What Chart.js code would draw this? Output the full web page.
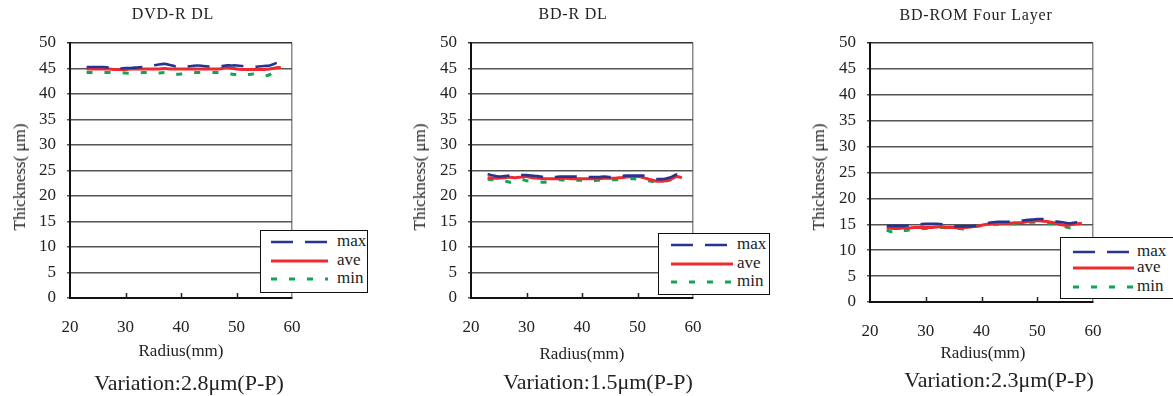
<!DOCTYPE html>
<html>
<head>
<meta charset="utf-8">
<script src="https://cdn.jsdelivr.net/npm/chart.js@4.4.0/dist/chart.umd.min.js"></script>
<style>
    body { margin: 0; background: #fff; font-family: 'Liberation Serif', 'Times New Roman', serif; color: #222; }
    #wrap { position: relative; width: 1173px; height: 396px; overflow: hidden; }
    canvas { position: absolute; left: 0; top: 0; }
    .txt { position: absolute; white-space: nowrap; transform: translate(-50%, -50%); }
    .title { font-size: 16px; letter-spacing: 0.8px; }
    .xtitle { font-size: 17px; }
    .ytitle { font-size: 17px; transform: translate(-50%, -50%) rotate(-90deg); }
    .caption { font-size: 22px; }
    .legend { position: absolute; background: #fff; border: 1px solid #111; box-sizing: border-box; font-size: 17px; }
    .legend .row { position: absolute; left: 0; height: 18px; line-height: 18px; }
    .legend svg { position: absolute; top: 0; }
    .legend span { position: absolute; top: -1px; }
</style>
</head>
<body>
<div id="wrap"></div>
<script>
// radius (mm) of the measuring points, shared by all three discs
const radius = [23, 24, 25, 26, 27, 28, 29, 30, 31, 32, 33, 34, 35, 36, 37, 38, 39, 40,
                41, 42, 43, 44, 45, 46, 47, 48, 49, 50, 51, 52, 53, 54, 55, 56, 57, 58];

// DVD-R DL
const dvdMax = [45.3, 45.3, 45.3, 45.3, 45.2, 45.0, 45.0, 45.1, 45.1, 45.2, 45.3, 45.4, 45.6, 45.8, 45.9, 45.7, 45.4, 45.3,
                45.4, 45.5, 45.6, 45.5, 45.4, 45.3, 45.4, 45.6, 45.6, 45.6, 45.5, 45.3, 45.3, 45.4, 45.5, 45.6, 46.0, 46.4];
const dvdAve = [44.9, 44.9, 44.9, 44.9, 44.9, 44.8, 44.8, 44.8, 44.9, 44.9, 44.9, 44.9, 44.9, 44.9, 45.0, 44.9, 44.9, 44.9,
                44.9, 44.9, 44.9, 44.9, 44.9, 44.9, 44.9, 45.2, 45.1, 44.9, 44.8, 44.8, 44.8, 44.8, 44.8, 44.9, 45.1, 45.2];
const dvdMin = [44.2, 44.2, 44.2, 44.2, 44.2, 44.2, 44.2, 44.1, 44.0, 44.1, 44.2, 44.2, 44.2, 44.1, 44.2, 44.1, 43.9, 43.9,
                44.1, 44.2, 44.2, 44.2, 44.2, 44.2, 44.2, 44.1, 43.9, 43.8, 43.7, 43.8, 43.9, 43.7, 43.5, 43.8, 44.5, 45.0];

// BD-R DL
const bdrMax = [24.3, 24.0, 23.8, 23.9, 24.0, 23.9, 24.1, 24.1, 24.0, 23.9, 23.7, 23.6, 23.7, 23.8, 23.8, 23.8, 23.8, 23.7,
                23.7, 23.7, 23.7, 23.8, 23.7, 23.7, 23.9, 24.0, 24.0, 24.0, 24.0, 23.8, 23.4, 23.3, 23.4, 23.7, 24.2, 24.2];
const bdrAve = [23.6, 23.5, 23.5, 23.6, 23.7, 23.6, 23.7, 23.8, 23.6, 23.5, 23.4, 23.4, 23.4, 23.4, 23.5, 23.4, 23.4, 23.4,
                23.4, 23.4, 23.4, 23.5, 23.5, 23.5, 23.6, 23.7, 23.8, 23.8, 23.6, 23.3, 23.0, 22.9, 23.0, 23.3, 23.8, 23.6];
const bdrMin = [23.3, 23.2, 23.1, 23.0, 22.7, 22.8, 23.3, 23.0, 22.9, 22.8, 22.7, 22.8, 23.0, 23.2, 23.1, 23.2, 23.1, 23.1,
                23.1, 23.0, 23.1, 23.2, 23.2, 23.2, 23.3, 23.4, 23.4, 23.3, 23.2, 23.0, 22.8, 22.7, 22.9, 23.2, 23.5, 23.4];

// BD-ROM Four Layer
const romMax = [14.7, 14.7, 14.7, 14.7, 14.8, 14.9, 15.0, 15.1, 15.1, 15.1, 15.0, 14.8, 14.6, 14.6, 14.6, 14.6, 14.7, 14.9,
                15.2, 15.4, 15.5, 15.5, 15.5, 15.5, 15.7, 15.8, 15.9, 16.0, 16.0, 15.8, 15.6, 15.5, 15.3, 15.2, 15.4, 15.3];
const romAve = [14.3, 14.2, 14.2, 14.3, 14.3, 14.4, 14.4, 14.4, 14.4, 14.5, 14.5, 14.4, 14.4, 14.3, 14.4, 14.5, 14.6, 14.8,
                15.0, 15.1, 15.2, 15.2, 15.2, 15.3, 15.3, 15.5, 15.6, 15.7, 15.6, 15.5, 15.3, 15.0, 14.8, 14.9, 15.1, 15.2];
const romMin = [13.9, 13.5, 13.9, 13.8, 13.9, 14.0, 14.1, 14.2, 14.2, 14.3, 14.4, 14.3, 14.2, 14.2, 14.1, 14.3, 14.6, 14.7,
                14.9, 15.0, 15.0, 15.0, 15.1, 15.1, 15.2, 15.3, 15.4, 15.4, 15.4, 15.2, 15.1, 14.9, 14.5, 14.3, 14.6, 14.8];

const seriesNames = ['max', 'ave', 'min'];
const xTicks = [20, 30, 40, 50, 60];
const yTicks = [0, 5, 10, 15, 20, 25, 30, 35, 40, 45, 50];

const W = 1173, H = 396;
const FONT = "'Liberation Serif', 'Times New Roman', serif";

const panels = [
    { title: 'DVD-R DL', caption: 'Variation:2.8\u03bcm(P-P)', data: [dvdMax, dvdAve, dvdMin],
      area: { left: 70, right: 292, top: 43, bottom: 298 },
      titlePos: [173, 14], yTitlePos: [20, 177], xTitlePos: [181, 351], captionPos: [189, 383],
      legend: { left: 260, top: 230, width: 108, height: 63, lineX: 10, lineW: 57, textX: 76, rows: [2, 21, 39] } },
    { title: 'BD-R DL', caption: 'Variation:1.5\u03bcm(P-P)', data: [bdrMax, bdrAve, bdrMin],
      area: { left: 471, right: 693, top: 43, bottom: 298 },
      titlePos: [573, 14], yTitlePos: [420, 177], xTitlePos: [582, 354], captionPos: [598, 382],
      legend: { left: 658, top: 233, width: 112, height: 62, lineX: 12, lineW: 62, textX: 78, rows: [2, 21, 39] } },
    { title: 'BD-ROM  Four Layer', caption: 'Variation:2.3\u03bcm(P-P)', data: [romMax, romAve, romMin],
      area: { left: 870, right: 1093, top: 43, bottom: 302 },
      titlePos: [976, 15], yTitlePos: [819, 177], xTitlePos: [983, 353], captionPos: [999, 380],
      legend: { left: 1060, top: 237, width: 130, height: 62, lineX: 12, lineW: 61, textX: 76, rows: [5, 21, 40] } }
];

const styles = [
    { color: '#27348f', width: 2.6, dash: [22, 12] },
    { color: '#ee2a30', width: 3, dash: [] },
    { color: '#10a552', width: 3, dash: [6, 12] }
];

// small tick marks pointing up into the plot from the x axis
const innerTicks = {
    id: 'innerTicks',
    afterDraw(chart) {
        const ctx = chart.ctx, xs = chart.scales.x, y0 = chart.chartArea.bottom;
        ctx.save();
        ctx.strokeStyle = '#222';
        ctx.lineWidth = 1.5;
        xTicks.slice(1, -1).forEach(v => {
            const px = Math.round(xs.getPixelForValue(v)) + 0.5;
            ctx.beginPath();
            ctx.moveTo(px, y0);
            ctx.lineTo(px, y0 - 5);
            ctx.stroke();
        });
        ctx.restore();
    }
};

const wrap = document.getElementById('wrap');

function addText(cls, text, pos) {
    const el = document.createElement('div');
    el.className = 'txt ' + cls;
    el.textContent = text;
    el.style.left = pos[0] + 'px';
    el.style.top = pos[1] + 'px';
    wrap.appendChild(el);
}

function addLegend(lg) {
    const box = document.createElement('div');
    box.className = 'legend';
    box.style.left = lg.left + 'px';
    box.style.top = lg.top + 'px';
    box.style.width = lg.width + 'px';
    box.style.height = lg.height + 'px';
    seriesNames.forEach((name, i) => {
        const s = styles[i];
        const row = document.createElement('div');
        row.className = 'row';
        row.style.top = lg.rows[i] + 'px';
        row.innerHTML = `<svg width="${lg.lineX + lg.lineW + 2}" height="18" style="left:0">
            <line x1="${lg.lineX}" y1="9" x2="${lg.lineX + lg.lineW}" y2="9" stroke="${s.color}"
                  stroke-width="${s.width}" stroke-dasharray="${s.dash.join(' ')}"/></svg>
            <span style="left:${lg.textX}px">${name}</span>`;
        box.appendChild(row);
    });
    wrap.appendChild(box);
}

panels.forEach(p => {
    const canvas = document.createElement('canvas');
    canvas.width = W;
    canvas.height = H;
    wrap.appendChild(canvas);

    const yWidth = 40, xHeight = 40;
    const a = p.area;

    new Chart(canvas.getContext('2d'), {
        type: 'scatter',
        data: {
            datasets: p.data.map((vals, i) => ({
                label: seriesNames[i],
                data: radius.map((r, k) => ({ x: r, y: vals[k] })),
                showLine: true,
                borderColor: styles[i].color,
                borderWidth: styles[i].width,
                borderDash: styles[i].dash,
                pointRadius: 0,
                tension: 0.2
            }))
        },
        options: {
            responsive: false,
            animation: false,
            events: [],
            layout: {
                padding: { left: a.left - yWidth, right: W - a.right, top: a.top, bottom: H - a.bottom - xHeight }
            },
            plugins: { legend: { display: false }, tooltip: { enabled: false } },
            scales: {
                x: {
                    type: 'linear',
                    min: 20, max: 60,
                    afterBuildTicks: s => { s.ticks = xTicks.map(v => ({ value: v })); },
                    afterFit: s => { s.height = xHeight; },
                    grid: {
                        drawTicks: false,
                        color: ctx => ctx.tick && ctx.tick.value === 60 ? '#8a8a8a' : 'rgba(0,0,0,0)',
                        lineWidth: 1.5
                    },
                    border: { color: '#111', width: 2 },
                    ticks: { color: '#222', padding: 19, font: { family: FONT, size: 17 } }
                },
                y: {
                    min: 0, max: 50,
                    afterBuildTicks: s => { s.ticks = yTicks.map(v => ({ value: v })); },
                    afterFit: s => { s.width = yWidth; },
                    grid: {
                        color: ctx => ctx.tick && ctx.tick.value === 50 ? '#333' : '#555',
                        lineWidth: 1.5,
                        drawTicks: true,
                        tickLength: 3
                    },
                    border: { color: '#111', width: 2 },
                    ticks: { color: '#222', padding: 11, font: { family: FONT, size: 17 } }
                }
            }
        },
        plugins: [innerTicks]
    });

    addText('title', p.title, p.titlePos);
    addText('ytitle', 'Thickness( \u03bcm)', p.yTitlePos);
    addText('xtitle', 'Radius(mm)', p.xTitlePos);
    addText('caption', p.caption, p.captionPos);
    addLegend(p.legend);
});
</script>
</body>
</html>
